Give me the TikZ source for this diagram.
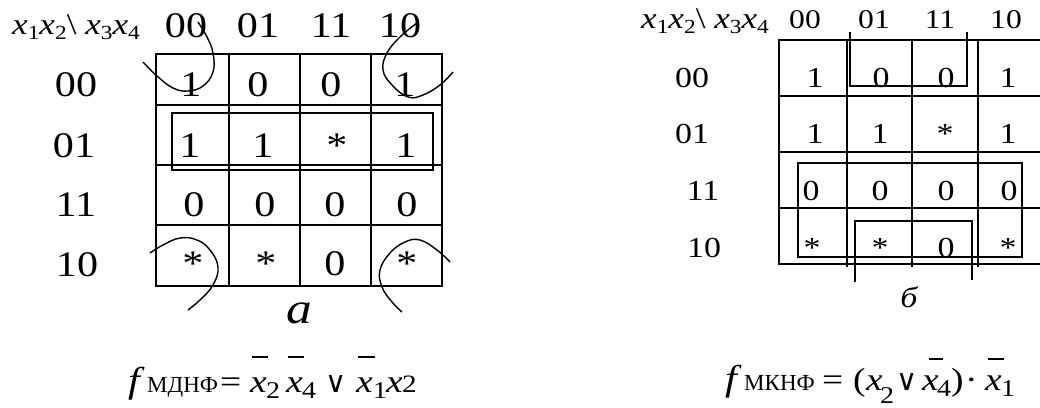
\documentclass[tikz,border=0pt]{standalone}
\usepackage{fontspec}
\setmainfont{Liberation Serif}[FakeStretch=1.17]
\newfontfamily\plainf{Liberation Serif}
\newfontfamily\symf{DejaVu Serif}
\newcommand{\fs}[1]{\fontsize{#1}{#1}\selectfont}
\newcommand{\hx}[2]{\textit{x}\raisebox{-5pt}{\fs{#2}#1}}
\begin{document}
\begin{tikzpicture}[x=1pt,y=-1pt,
  gridline/.style={line width=1.9pt},
  thin/.style={line width=1.3pt},
  loopline/.style={line width=1.4pt},
  t/.style={inner sep=0pt,anchor=base},
  tw/.style={inner sep=0pt,anchor=base west},
  lt/.style={t,font=\fs{36}},
  rt/.style={t,font=\fs{29}},
  rh/.style={t,font=\fs{27}},
  hdr/.style={tw,font=\fs{30}},
  fx/.style={tw,font=\fs{32}\itshape},
  fsub/.style={tw,font=\fs{24}},
  fcyr/.style={tw,font=\fs{23}\plainf},
  fop/.style={tw,font=\fs{32}},
  fsym/.style={tw,font=\fs{29}\symf},
  bar/.style={line width=1.3pt},
]
\useasboundingbox (0,0) rectangle (1040,407);

% ---------- left map ----------
\draw[gridline] (156,54) rectangle (442,286);
\foreach \x in {229,300,371} \draw[gridline] (\x,54) -- (\x,286);
\foreach \y in {105,165,225} \draw[gridline] (156,\y) -- (442,\y);

\node[hdr] (lhead) at (12,34) {\hx{1}{20}\hx{2}{20}\textbackslash\ \hx{3}{20}\hx{4}{20}};
\node[lt] (lc1) at (186,37) {00};
\node[lt] (lc2) at (258,37) {01};
\node[lt] (lc3) at (331,37) {11};
\node[lt] (lc4) at (400,37) {10};

\node[lt] (lr1) at (76,96) {00};
\node[lt] (lr2) at (74,157) {01};
\node[lt] (lr3) at (76,216) {11};
\node[lt] (lr4) at (77,276) {10};

\node[lt] (l11) at (191,96) {1};
\node[lt] (l12) at (258,96) {0};
\node[lt] (l13) at (331,96) {0};
\node[lt] (l14) at (405,96) {1};
\node[lt] (l21) at (190,157) {1};
\node[lt] (l22) at (263,157) {1};
\node[lt] (l23) at (337,157) {*};
\node[lt] (l24) at (406,157) {1};
\node[lt] (l31) at (194,216) {0};
\node[lt] (l32) at (265,216) {0};
\node[lt] (l33) at (335,216) {0};
\node[lt] (l34) at (407,216) {0};
\node[lt] (l41) at (193,275) {*};
\node[lt] (l42) at (266,275) {*};
\node[lt] (l43) at (335,275) {0};
\node[lt] (l44) at (407,275) {*};

\draw[thin] (172,113) rectangle (433,170);

\draw[loopline] plot[smooth,tension=0.7] coordinates {(143,62) (157,76) (173,88) (188,91) (203,86) (213,72) (213,53) (207,37) (198,22)};
\draw[loopline] plot[smooth,tension=0.7] coordinates {(417,23) (400,37) (387,53) (383,70) (392,85) (408,97) (423,95) (440,85) (453,72)};
\draw[loopline] plot[smooth,tension=0.7] coordinates {(150,253) (163,245) (180,238) (197,240) (210,250) (218,267) (213,285) (200,300) (188,310)};
\draw[loopline] plot[smooth,tension=0.7] coordinates {(450,262) (437,250) (420,240) (405,242) (390,253) (380,270) (382,287) (392,302) (402,312)};

\node[t,font=\fs{44}\itshape] (la) at (299,323) {а};

% left formula
\node[tw,font=\fs{36}\itshape] (lf) at (128,392) {f};
\node[fcyr] (lfn) at (147,392) {МДНФ};
\node[fop] (leq) at (220,392) {=};
\node[fx] (lx1) at (250,392) {x};
\node[fsub] (ls1) at (266,398) {2};
\node[fx] (lx2) at (286,392) {x};
\node[fsub] (ls2) at (302,398) {4};
\node[fsym] (lor) at (325,392) {∨};
\node[fx] (lx3) at (356,392) {x};
\node[fsub] (ls3) at (373,398) {1};
\node[fx] (lx4) at (386,392) {x};
\node[tw,font=\fs{25}] (ls4) at (402,392) {2};
\draw[bar] (252,357) -- (268,357);
\draw[bar] (288,357) -- (304,357);
\draw[bar] (358,357) -- (375,357);

% ---------- right map ----------
\draw[gridline] (1045,40) -- (779,40) -- (779,264) -- (1045,264);
\foreach \x in {847,912,978} \draw[gridline] (\x,40) -- (\x,267);
\foreach \y in {96,152,208} \draw[gridline] (779,\y) -- (1045,\y);

\node[hdr] (rhead) at (641,28) {\hx{1}{20}\hx{2}{20}\textbackslash\ \hx{3}{20}\hx{4}{20}};
\node[rh] (rc1) at (805,28) {00};
\node[rh] (rc2) at (874,28) {01};
\node[rh] (rc3) at (940,28) {11};
\node[rh] (rc4) at (1006,28) {10};

\node[rt] (rr1) at (692,87) {00};
\node[rt] (rr2) at (692,143) {01};
\node[rt] (rr3) at (703,200) {11};
\node[rt] (rr4) at (704,257) {10};

\node[rt] (r11) at (815,87) {1};
\node[rt] (r12) at (881,87) {0};
\node[rt] (r13) at (946,87) {0};
\node[rt] (r14) at (1008,87) {1};
\node[rt] (r21) at (815,143) {1};
\node[rt] (r22) at (880,143) {1};
\node[rt] (r23) at (945,143) {*};
\node[rt] (r24) at (1008,143) {1};
\node[rt] (r31) at (811,200) {0};
\node[rt] (r32) at (880,200) {0};
\node[rt] (r33) at (946,200) {0};
\node[rt] (r34) at (1009,200) {0};
\node[rt] (r41) at (812,257) {*};
\node[rt] (r42) at (880,257) {*};
\node[rt] (r43) at (946,257) {0};
\node[rt] (r44) at (1008,257) {*};

\draw[thin] (850,32) -- (850,86) -- (967,86) -- (967,32);
\draw[thin] (798,163) rectangle (1022,257);
\draw[thin] (855,282) -- (855,221) -- (972,221) -- (972,280);

\node[t,font=\fs{29}\itshape] (rb) at (909,307) {б};

% right formula
\node[tw,font=\fs{36}\itshape] (rf) at (725,390) {f};
\node[fcyr] (rfn) at (744,390) {МКНФ};
\node[fop] (req) at (822,390) {=};
\node[fop] (rpl) at (853,390) {(};
\node[fx] (rx1) at (866,390) {x};
\node[fsub] (rs1) at (880,403) {2};
\node[fsym] (ror) at (896,390) {∨};
\node[fx] (rx2) at (922,390) {x};
\node[fsub] (rs2) at (937,396) {4};
\node[fop] (rpr) at (951,390) {)};
\node[fop] (rdot) at (965,390) {·};
\node[fx] (rx3) at (985,390) {x};
\node[fsub] (rs3) at (1001,396) {1};
\draw[bar] (929,359) -- (943,359);
\draw[bar] (988,359) -- (1004,359);
\end{tikzpicture}
\end{document}
